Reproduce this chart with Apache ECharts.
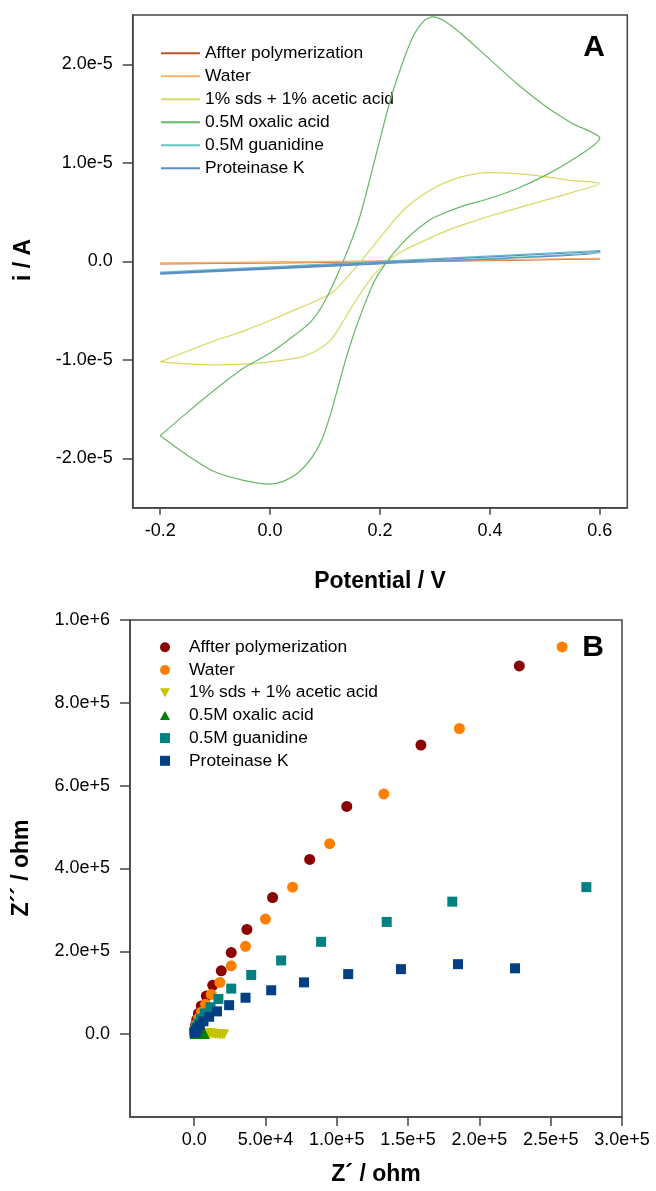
<!DOCTYPE html>
<html>
<head>
<meta charset="utf-8">
<script src="https://cdn.jsdelivr.net/npm/echarts@6/dist/echarts.min.js"></script>
<style>
html,body{margin:0;padding:0;background:#fff;}
#cv{width:656px;height:600px;}
#eis{width:656px;height:591px;}
</style>
</head>
<body>
<div id="cv"></div>
<div id="eis"></div>
<script>
// ---------- Panel A: cyclic voltammograms (current in units of 1e-5 A) ----------
const cvNames = ['Affter polymerization','Water','1% sds + 1% acetic acid','0.5M oxalic acid','0.5M guanidine','Proteinase K'];
const cvXTicks = [-0.2, 0, 0.2, 0.4, 0.6];
const cvYTicks = [-2, -1, 0, 1, 2];

const afterV = [-0.2, 0.2, 0.6, 0.6, 0.2, -0.2];
const afterI = [-0.02, 0.0, 0.025, 0.02, -0.005, -0.025];
const waterV = [-0.2, 0.2, 0.6, 0.6, 0.2, -0.2];
const waterI = [-0.015, 0.005, 0.03, 0.025, 0.0, -0.02];
const sdsV = [-0.2,-0.15,-0.103,-0.05,0,0.05,0.11,0.15,0.19,0.225,0.25,0.3,0.35,0.4,0.45,0.5,0.55,0.6,
              0.55,0.5,0.45,0.4,0.372,0.33,0.3,0.25,0.213,0.18,0.15,0.134,0.11,0.08,0.05,0,-0.036,-0.1,-0.15,-0.2];
const sdsI = [-1.02,-0.91,-0.81,-0.71,-0.6,-0.48,-0.33,-0.1,0.17,0.41,0.56,0.75,0.86,0.9,0.89,0.86,0.82,0.79,
              0.7,0.62,0.54,0.46,0.41,0.33,0.26,0.13,0,-0.2,-0.45,-0.6,-0.8,-0.92,-0.98,-1.02,-1.04,-1.05,-1.04,-1.02];
const oxalicV = [-0.2,-0.15,-0.1,-0.05,0,0.03,0.073,0.1,0.133,0.161,0.18,0.195,0.219,0.24,0.26,0.28,0.296,0.32,0.35,0.4,0.45,0.5,0.55,0.6,
                 0.55,0.5,0.45,0.4,0.35,0.3,0.285,0.26,0.235,0.213,0.19,0.161,0.14,0.125,0.11,0.095,0.075,0.05,0.025,0,-0.05,-0.103,-0.15,-0.2];
const oxalicI = [-1.77,-1.53,-1.3,-1.09,-0.93,-0.81,-0.62,-0.4,0,0.41,0.8,1.13,1.64,2.0,2.28,2.44,2.48,2.43,2.3,2.05,1.8,1.58,1.4,1.25,
                 1.03,0.87,0.74,0.64,0.56,0.45,0.4,0.29,0.15,0,-0.2,-0.6,-0.95,-1.25,-1.55,-1.8,-2.0,-2.15,-2.23,-2.26,-2.22,-2.13,-1.97,-1.77];
const guanV = [-0.2, 0.2, 0.6, 0.6, 0.2, -0.2];
const guanI = [-0.11, 0.0, 0.11, 0.1, -0.02, -0.12];
const protV = [-0.2, 0.2, 0.6, 0.6, 0.2, -0.2];
const protI = [-0.12, -0.01, 0.1, 0.09, -0.025, -0.13];

const cvColors = ['#c0522e','#f9b46a','#d8d864','#66b866','#66c4c4','#5b8cc6'];

// ---------- Panel B: Nyquist plots (ohm) ----------
const eisNames = cvNames;
const eisXTicks = [0, 50000, 100000, 150000, 200000, 250000, 300000];
const eisYTicks = [0, 200000, 400000, 600000, 800000, 1000000];

const afterRe = [228000,159000,107000,81000,55000,37000,26000,19000,13000,8500,5000,3000,1800,900,400,100];
const afterIm = [889000,698000,550000,422000,330000,253000,197000,153000,118000,92000,68000,50000,35000,22000,12000,5000];
const waterRe = [258000,186000,133000,95000,69000,50000,36000,26000,18000,12000,8000,5000,3000,1700,800,200];
const waterIm = [935000,738000,580000,460000,355000,278000,212000,165000,125000,96000,72000,53000,38000,25000,14000,5000];
const sdsRe = [1000,2200,3500,4600,5800,7000,8100,9300,10500,11600,12800,14000,15100,16300,17500,18600,19800,21000];
const sdsIm = [2000,2600,2900,3000,2900,2700,2400,2100,1800,1500,1200,900,600,300,0,-300,-600,-900];
const oxRe = [300,800,1500,2500,3500,4500,5500,6500,7500];
const oxIm = [300,600,900,1200,1300,1200,1000,700,400];
const guanRe = [275000,181000,135000,89000,61000,40000,26000,17000,11500,7500,4800,3000,1800,900,300];
const guanIm = [355000,320000,271000,223000,178000,143000,110000,85000,65000,50000,37000,26000,17000,10000,4000];
const protRe = [225000,185000,145000,108000,77000,54000,36000,24500,16000,10500,6500,4000,2300,1200,400];
const protIm = [159000,169000,157000,145000,125000,106000,88000,70000,55000,42000,31000,22000,14000,8000,3000];

const eisColors = ['#8b0000','#ff8000','#c4c400','#008000','#008080','#033f82'];
const TRI_DOWN = 'path://M0,0 L10,0 L5,9 Z';
const TRI_UP = 'path://M5,0 L10,9 L0,9 Z';
const eisSymbols = ['circle','circle',TRI_DOWN,TRI_UP,'rect','rect'];

const zip = (a, b) => a.map((v, i) => [v, b[i]]);
const FONT = '"Liberation Sans", Arial, sans-serif';
const AXIS_COLOR = '#444';

function sci(v) {
  if (v === 0) return '0.0';
  return v.toExponential(1);
}

// ---------- Chart A ----------
const cvData = [zip(afterV, afterI), zip(waterV, waterI), zip(sdsV, sdsI), zip(oxalicV, oxalicI), zip(guanV, guanI), zip(protV, protI)];
const cvChart = echarts.init(document.getElementById('cv'), null, {renderer: 'canvas'});
cvChart.setOption({
  animation: false,
  backgroundColor: '#fff',
  grid: {left: 132.7, top: 15, width: 494.6, height: 492.7, show: true, borderColor: AXIS_COLOR, borderWidth: 1.5, containLabel: false},
  xAxis: {
    type: 'value', min: -0.25, max: 0.65,
    axisLine: {show: true, onZero: false, lineStyle: {color: AXIS_COLOR, width: 1.5}},
    axisTick: {show: true, length: 7, customValues: cvXTicks, lineStyle: {color: AXIS_COLOR, width: 1.5}},
    axisLabel: {customValues: cvXTicks, margin: 14, color: '#000', fontFamily: FONT, fontSize: 18, formatter: v => v.toFixed(1)},
    splitLine: {show: false}
  },
  yAxis: {
    type: 'value', min: -2.5, max: 2.5,
    axisLine: {show: true, onZero: false, lineStyle: {color: AXIS_COLOR, width: 1.5}},
    axisTick: {show: true, length: 10, customValues: cvYTicks, lineStyle: {color: AXIS_COLOR, width: 1.5}},
    axisLabel: {customValues: cvYTicks, margin: 20, color: '#000', fontFamily: FONT, fontSize: 18, formatter: v => sci(v * 1e-5)},
    splitLine: {show: false}
  },
  legend: {
    left: 155, top: 39.3, orient: 'vertical', itemWidth: 39, itemHeight: 14, itemGap: 5,
    data: cvNames,
    itemStyle: {opacity: 0},
    textStyle: {color: '#000', fontFamily: FONT, fontSize: 17.4, lineHeight: 18, padding: [0, 0, 0, 0]}
  },
  series: cvNames.map((n, k) => ({
    name: n, type: 'line', data: cvData[k], symbol: 'none', smooth: 0.25,
    lineStyle: {color: cvColors[k], width: 1.2}, itemStyle: {color: cvColors[k]}, z: 2 + k
  })),
  graphic: [
    {type: 'text', x: 380, y: 582, style: {text: 'Potential / V', font: 'bold 23px ' + FONT, fill: '#000', align: 'center', verticalAlign: 'middle'}},
    {type: 'text', x: 24, y: 260, rotation: Math.PI / 2, style: {text: 'i / A', font: 'bold 23px ' + FONT, fill: '#000', align: 'center', verticalAlign: 'middle'}},
    {type: 'text', x: 594, y: 48, style: {text: 'A', font: 'bold 30px ' + FONT, fill: '#000', align: 'center', verticalAlign: 'middle'}}
  ]
});

// ---------- Chart B ----------
const eisData = [zip(afterRe, afterIm), zip(waterRe, waterIm), zip(sdsRe, sdsIm), zip(oxRe, oxIm), zip(guanRe, guanIm), zip(protRe, protIm)];
const eisChart = echarts.init(document.getElementById('eis'), null, {renderer: 'canvas'});
eisChart.setOption({
  animation: false,
  backgroundColor: '#fff',
  grid: {left: 130, top: 20, width: 492, height: 497, show: true, borderColor: AXIS_COLOR, borderWidth: 1.5, containLabel: false},
  xAxis: {
    type: 'value', min: -45000, max: 300000,
    axisLine: {show: true, onZero: false, lineStyle: {color: AXIS_COLOR, width: 1.5}},
    axisTick: {show: true, length: 9, customValues: eisXTicks, lineStyle: {color: AXIS_COLOR, width: 1.5}},
    axisLabel: {customValues: eisXTicks, margin: 14, color: '#000', fontFamily: FONT, fontSize: 18, formatter: sci},
    splitLine: {show: false}
  },
  yAxis: {
    type: 'value', min: -200000, max: 1000000,
    axisLine: {show: true, onZero: false, lineStyle: {color: AXIS_COLOR, width: 1.5}},
    axisTick: {show: true, length: 10, customValues: eisYTicks, lineStyle: {color: AXIS_COLOR, width: 1.5}},
    axisLabel: {customValues: eisYTicks, margin: 20, color: '#000', fontFamily: FONT, fontSize: 18, formatter: sci},
    splitLine: {show: false}
  },
  legend: {
    left: 155, top: 33.3, orient: 'vertical', itemWidth: 10, itemHeight: 10, itemGap: 4.7,
    data: eisNames,
    textStyle: {color: '#000', fontFamily: FONT, fontSize: 17.4, lineHeight: 18, padding: [0, 0, 0, 14]}
  },
  series: eisNames.map((n, k) => ({
    name: n, type: 'scatter', data: eisData[k], symbol: eisSymbols[k],
    symbolSize: k < 2 ? 11 : 10,
    itemStyle: {color: eisColors[k], opacity: 1}, z: 2 + k
  })),
  graphic: [
    {type: 'text', x: 376, y: 575, style: {text: 'Z´ / ohm', font: 'bold 23px ' + FONT, fill: '#000', align: 'center', verticalAlign: 'middle'}},
    {type: 'text', x: 22, y: 268, rotation: Math.PI / 2, style: {text: 'Z´´ / ohm', font: 'bold 23px ' + FONT, fill: '#000', align: 'center', verticalAlign: 'middle'}},
    {type: 'text', x: 593, y: 48, style: {text: 'B', font: 'bold 30px ' + FONT, fill: '#000', align: 'center', verticalAlign: 'middle'}}
  ]
});
</script>
</body>
</html>
